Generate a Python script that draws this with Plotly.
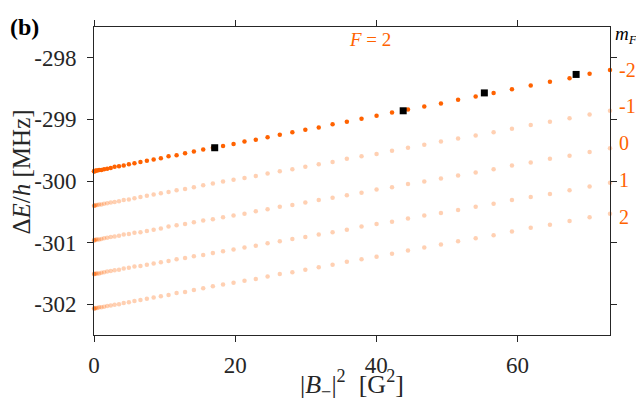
import plotly.graph_objects as go

# |B_-|^2 sample points [G^2]
b2 = [0, 0.03, 0.12, 0.26, 0.47, 0.73, 1.05, 1.43, 1.87, 2.37, 2.92, 3.54, 4.21,
      4.94, 5.73, 6.58, 7.49, 8.45, 9.47, 10.56, 11.70, 12.90, 14.15, 15.47, 16.84,
      18.28, 19.77, 21.32, 22.92, 24.59, 26.32, 28.10, 29.94, 31.84, 33.80, 35.82,
      37.90, 40.03, 42.22, 44.48, 46.79, 49.15, 51.58, 54.07, 56.61, 59.21, 61.87,
      64.59, 67.37, 70.21, 73.10]

# Delta E / h [MHz] for each m_F
e_m2 = [-299.84, -299.84, -299.84, -299.83, -299.83, -299.82, -299.82, -299.81, -299.80,
        -299.79, -299.77, -299.76, -299.75, -299.73, -299.71, -299.69, -299.67, -299.65,
        -299.63, -299.60, -299.58, -299.55, -299.52, -299.49, -299.46, -299.43, -299.40,
        -299.36, -299.33, -299.29, -299.25, -299.21, -299.17, -299.13, -299.08, -299.04,
        -298.99, -298.94, -298.89, -298.84, -298.79, -298.74, -298.68, -298.63, -298.57,
        -298.51, -298.45, -298.39, -298.33, -298.26, -298.20]
e_m1 = [-300.40, -300.40, -300.40, -300.39, -300.39, -300.38, -300.38, -300.37, -300.36,
        -300.35, -300.34, -300.33, -300.31, -300.30, -300.28, -300.26, -300.24, -300.22,
        -300.20, -300.18, -300.15, -300.13, -300.10, -300.07, -300.04, -300.01, -299.98,
        -299.95, -299.92, -299.88, -299.84, -299.81, -299.77, -299.73, -299.69, -299.64,
        -299.60, -299.56, -299.51, -299.46, -299.41, -299.36, -299.31, -299.26, -299.21,
        -299.15, -299.09, -299.04, -298.98, -298.92, -298.86]
e_0 = [-300.96, -300.96, -300.96, -300.95, -300.95, -300.95, -300.94, -300.93, -300.92,
       -300.91, -300.90, -300.89, -300.87, -300.86, -300.84, -300.83, -300.81, -300.79,
       -300.77, -300.74, -300.72, -300.70, -300.67, -300.64, -300.62, -300.59, -300.56,
       -300.53, -300.49, -300.46, -300.42, -300.39, -300.35, -300.31, -300.27, -300.23,
       -300.19, -300.14, -300.10, -300.05, -300.01, -299.96, -299.91, -299.86, -299.81,
       -299.75, -299.70, -299.64, -299.59, -299.53, -299.47]
e_p1 = [-301.51, -301.51, -301.51, -301.50, -301.50, -301.50, -301.49, -301.48, -301.47,
        -301.46, -301.45, -301.44, -301.42, -301.41, -301.39, -301.38, -301.36, -301.34,
        -301.32, -301.30, -301.27, -301.25, -301.22, -301.20, -301.17, -301.14, -301.11,
        -301.08, -301.05, -301.01, -300.98, -300.94, -300.91, -300.87, -300.83, -300.79,
        -300.74, -300.70, -300.66, -300.61, -300.56, -300.52, -300.47, -300.42, -300.37,
        -300.31, -300.26, -300.21, -300.15, -300.09, -300.03]
e_p2 = [-302.07, -302.07, -302.07, -302.06, -302.06, -302.05, -302.05, -302.04, -302.03,
        -302.02, -302.01, -302.00, -301.98, -301.97, -301.95, -301.93, -301.91, -301.89,
        -301.87, -301.85, -301.82, -301.80, -301.77, -301.74, -301.71, -301.68, -301.65,
        -301.62, -301.59, -301.55, -301.51, -301.48, -301.44, -301.40, -301.36, -301.31,
        -301.27, -301.23, -301.18, -301.13, -301.08, -301.03, -300.98, -300.93, -300.88,
        -300.82, -300.76, -300.71, -300.65, -300.59, -300.53]

# measured points
meas_b2 = [17.1, 43.8, 55.3, 68.3]
meas_e = [-299.46, -298.86, -298.57, -298.27]

mf_labels = ["-2", "-1", "0", "1", "2"]
mf_label_y = [-298.20, -298.79, -299.39, -299.99, -300.58]

orange = "#ff6200"
axcol = "#262626"
font = "Liberation Serif"

fig = go.Figure()

for e in [e_p2, e_p1, e_0, e_m1]:
    fig.add_trace(go.Scatter(x=b2, y=e, mode="markers", cliponaxis=False,
                             marker=dict(color=orange, size=4.5, opacity=0.3)))

fig.add_trace(go.Scatter(x=b2, y=e_m2, mode="markers", cliponaxis=False,
                         marker=dict(color=orange, size=4.5)))
fig.add_trace(go.Scatter(x=meas_b2, y=meas_e, mode="markers",
                         marker=dict(color="black", size=7, symbol="square")))

for lab, yy in zip(mf_labels, mf_label_y):
    fig.add_annotation(x=1.013, xref="paper", y=yy, yref="y", text=lab,
                       showarrow=False, xanchor="left", yanchor="middle",
                       font=dict(family=font, size=20, color=orange))

# page body adds 8px offset, margins below compensate for it
fig.add_annotation(x=1.006, xref="paper", y=0.975, yref="paper",
                   text="<i>m</i><sub><i>F</i></sub>", showarrow=False,
                   xanchor="left", yanchor="middle",
                   font=dict(family=font, size=19, color="black"))
fig.add_annotation(x=0.535, xref="paper", y=0.958, yref="paper",
                   text="<i>F</i> = 2", showarrow=False,
                   xanchor="center", yanchor="middle",
                   font=dict(family=font, size=19, color=orange))
fig.add_annotation(x=-0.166, xref="paper", y=1.05, yref="paper",
                   text="<b>(b)</b>", showarrow=False,
                   xanchor="left", yanchor="top",
                   font=dict(family=font, size=24, color="black"))
fig.add_annotation(x=-0.14, xref="paper", y=0.53, yref="paper",
                   text="Δ<i>E</i>/<i>h</i> [MHz]", showarrow=False, textangle=-90,
                   xanchor="center", yanchor="middle",
                   font=dict(family=font, size=25, color=axcol))
fig.add_annotation(x=0.5, xref="paper", y=-0.16, yref="paper",
                   text="|<i>B</i><sub>−</sub>|<sup>2</sup>  [G<sup>2</sup>]",
                   showarrow=False, xanchor="center", yanchor="middle",
                   font=dict(family=font, size=26, color=axcol))

fig.update_layout(
    width=644, height=407,
    margin=dict(l=86, r=42, t=15, b=80),
    paper_bgcolor="white", plot_bgcolor="white",
    showlegend=False,
    font=dict(family=font, size=23, color=axcol),
)
fig.update_xaxes(range=[0, 73.1], tickvals=[0, 20, 40, 60], showgrid=False,
                 zeroline=False, showline=True, linecolor=axcol, linewidth=1,
                 mirror="ticks", ticks="outside", ticklen=6, tickcolor=axcol,
                 ticklabelstandoff=3)
fig.update_yaxes(range=[-302.5, -297.5], tickvals=[-302, -301, -300, -299, -298],
                 ticktext=["-302", "-301", "-300", "-299", "-298"], showgrid=False,
                 zeroline=False, showline=True, linecolor=axcol, linewidth=1,
                 mirror="ticks", ticks="outside", ticklen=6, tickcolor=axcol,
                 ticklabelstandoff=6)

fig.write_html("out.html")
